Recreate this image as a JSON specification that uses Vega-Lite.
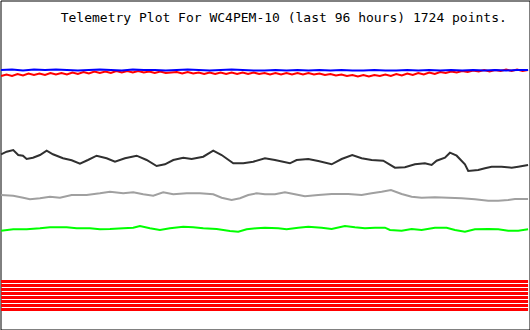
{
  "$schema": "https://vega.github.io/schema/vega-lite/v6.json",
  "width": 529,
  "height": 329,
  "padding": {"left": 0.5, "top": 0.5, "right": 0.5, "bottom": 0.5},
  "autosize": {"type": "none"},
  "background": "white",
  "config": {"view": {"stroke": "black", "strokeWidth": 1}},
  "datasets": {
    "analog": [
      {"series":"black","t":0,"v":175.7},{"series":"black","t":1.02,"v":178.3},{"series":"black","t":2.22,"v":180},{"series":"black","t":3.13,"v":175},{"series":"black","t":3.99,"v":174.3},{"series":"black","t":4.66,"v":171},{"series":"black","t":5.81,"v":172.3},{"series":"black","t":7.09,"v":175},{"series":"black","t":8.31,"v":179.3},{"series":"black","t":9.45,"v":175.7},{"series":"black","t":11.28,"v":171.7},{"series":"black","t":12.86,"v":169.7},{"series":"black","t":14.37,"v":166.3},{"series":"black","t":15.83,"v":170},{"series":"black","t":17.41,"v":174.3},{"series":"black","t":19.23,"v":171.7},{"series":"black","t":20.75,"v":168.3},{"series":"black","t":22.57,"v":171.7},{"series":"black","t":24.7,"v":174.3},{"series":"black","t":26.52,"v":170},{"series":"black","t":28.34,"v":164},{"series":"black","t":29.85,"v":165.7},{"series":"black","t":31.37,"v":170},{"series":"black","t":33.19,"v":172.3},{"series":"black","t":34.72,"v":171},{"series":"black","t":36.83,"v":173.3},{"series":"black","t":38.65,"v":179.3},{"series":"black","t":40.18,"v":175},{"series":"black","t":42.3,"v":166.7},{"series":"black","t":44.12,"v":166.7},{"series":"black","t":45.94,"v":168.3},{"series":"black","t":48.07,"v":171.7},{"series":"black","t":49.89,"v":170},{"series":"black","t":52.62,"v":166.7},{"series":"black","t":53.84,"v":170},{"series":"black","t":55.96,"v":171},{"series":"black","t":57.78,"v":169},{"series":"black","t":60.22,"v":165.7},{"series":"black","t":62.04,"v":171},{"series":"black","t":63.97,"v":175},{"series":"black","t":65.68,"v":171.7},{"series":"black","t":67.5,"v":170},{"series":"black","t":69.62,"v":169.3},{"series":"black","t":71.75,"v":162.3},{"series":"black","t":73.57,"v":162.7},{"series":"black","t":75.39,"v":165.7},{"series":"black","t":77.21,"v":166.7},{"series":"black","t":78.43,"v":165},{"series":"black","t":79.34,"v":169.3},{"series":"black","t":80.86,"v":172.3},{"series":"black","t":81.77,"v":177.3},{"series":"black","t":82.99,"v":174.3},{"series":"black","t":84.5,"v":165.7},{"series":"black","t":85.1,"v":159},{"series":"black","t":86.92,"v":160},{"series":"black","t":88.14,"v":161.7},{"series":"black","t":89.36,"v":163.3},{"series":"black","t":91.18,"v":163.3},{"series":"black","t":93.01,"v":162.3},{"series":"black","t":94.21,"v":163.3},{"series":"black","t":96,"v":165},
      {"series":"gray","t":0,"v":135},{"series":"gray","t":2.22,"v":134.3},{"series":"gray","t":4.04,"v":132.3},{"series":"gray","t":5.26,"v":130.7},{"series":"gray","t":7.09,"v":131.7},{"series":"gray","t":8.91,"v":133.3},{"series":"gray","t":10.73,"v":132.3},{"series":"gray","t":12.86,"v":135},{"series":"gray","t":15.59,"v":135},{"series":"gray","t":18.01,"v":136.7},{"series":"gray","t":19.84,"v":138.3},{"series":"gray","t":22.26,"v":136.7},{"series":"gray","t":24.08,"v":137.7},{"series":"gray","t":25.9,"v":135.7},{"series":"gray","t":27.72,"v":134.3},{"series":"gray","t":29.54,"v":137.7},{"series":"gray","t":31.37,"v":135.7},{"series":"gray","t":33.81,"v":136.7},{"series":"gray","t":36.23,"v":136.7},{"series":"gray","t":38.65,"v":135.7},{"series":"gray","t":40.18,"v":132.3},{"series":"gray","t":42,"v":130},{"series":"gray","t":43.52,"v":131.7},{"series":"gray","t":45.03,"v":135},{"series":"gray","t":46.56,"v":136.7},{"series":"gray","t":48.07,"v":135.7},{"series":"gray","t":49.89,"v":135.7},{"series":"gray","t":51.71,"v":137.7},{"series":"gray","t":53.53,"v":135.7},{"series":"gray","t":55.35,"v":133.7},{"series":"gray","t":57.78,"v":135},{"series":"gray","t":60.22,"v":136},{"series":"gray","t":63.24,"v":136},{"series":"gray","t":65.68,"v":135},{"series":"gray","t":67.5,"v":136.7},{"series":"gray","t":69.33,"v":138.3},{"series":"gray","t":71.02,"v":140},{"series":"gray","t":72.97,"v":136},{"series":"gray","t":74.79,"v":133.3},{"series":"gray","t":76.61,"v":132.3},{"series":"gray","t":79.03,"v":132.7},{"series":"gray","t":81.46,"v":132.3},{"series":"gray","t":83.9,"v":131.7},{"series":"gray","t":86.32,"v":130.7},{"series":"gray","t":88.74,"v":129.3},{"series":"gray","t":90.56,"v":129.3},{"series":"gray","t":92.39,"v":130},{"series":"gray","t":93.61,"v":131},{"series":"gray","t":96,"v":131},
      {"series":"green","t":0,"v":99.3},{"series":"green","t":2.22,"v":100.7},{"series":"green","t":4.66,"v":100.7},{"series":"green","t":7.09,"v":101.7},{"series":"green","t":8.91,"v":102.7},{"series":"green","t":11.95,"v":102.7},{"series":"green","t":13.77,"v":101.7},{"series":"green","t":16.19,"v":101.7},{"series":"green","t":18.01,"v":100.7},{"series":"green","t":19.84,"v":101},{"series":"green","t":22.26,"v":101.7},{"series":"green","t":24.08,"v":102.3},{"series":"green","t":25.3,"v":104},{"series":"green","t":27.12,"v":101.7},{"series":"green","t":28.94,"v":100},{"series":"green","t":30.76,"v":101.7},{"series":"green","t":33.19,"v":103.3},{"series":"green","t":35.01,"v":102.7},{"series":"green","t":36.83,"v":101.7},{"series":"green","t":39.27,"v":101},{"series":"green","t":41.69,"v":99},{"series":"green","t":43.21,"v":98.3},{"series":"green","t":44.74,"v":100.7},{"series":"green","t":46.56,"v":101.7},{"series":"green","t":48.07,"v":102.3},{"series":"green","t":50.49,"v":101.7},{"series":"green","t":52.02,"v":100.7},{"series":"green","t":54.14,"v":102.3},{"series":"green","t":55.96,"v":103.3},{"series":"green","t":58.4,"v":102.3},{"series":"green","t":60.22,"v":101},{"series":"green","t":62.64,"v":104},{"series":"green","t":64.46,"v":102.7},{"series":"green","t":66.28,"v":101.7},{"series":"green","t":68.11,"v":102.3},{"series":"green","t":69.93,"v":102.3},{"series":"green","t":70.84,"v":100},{"series":"green","t":72.97,"v":99.3},{"series":"green","t":74.79,"v":101},{"series":"green","t":76.61,"v":100},{"series":"green","t":79.03,"v":102.3},{"series":"green","t":81.16,"v":102.3},{"series":"green","t":82.68,"v":100},{"series":"green","t":84.5,"v":98.3},{"series":"green","t":86.32,"v":100.7},{"series":"green","t":88.74,"v":101},{"series":"green","t":90.56,"v":100.7},{"series":"green","t":92.39,"v":99.3},{"series":"green","t":94.21,"v":99.3},{"series":"green","t":96,"v":100.7},
      {"series":"red","t":0,"v":254},{"series":"red","t":1,"v":255.5},{"series":"red","t":2,"v":254},{"series":"red","t":3,"v":256},{"series":"red","t":4,"v":254.5},{"series":"red","t":5,"v":256.5},{"series":"red","t":6,"v":255},{"series":"red","t":7,"v":256.5},{"series":"red","t":8,"v":255},{"series":"red","t":9,"v":257},{"series":"red","t":10,"v":255.5},{"series":"red","t":11,"v":257},{"series":"red","t":12,"v":255.5},{"series":"red","t":13,"v":257.5},{"series":"red","t":14,"v":256},{"series":"red","t":15,"v":258},{"series":"red","t":16,"v":256.5},{"series":"red","t":17,"v":258.5},{"series":"red","t":18,"v":257},{"series":"red","t":19,"v":258.5},{"series":"red","t":20,"v":257},{"series":"red","t":21,"v":259},{"series":"red","t":22,"v":257.5},{"series":"red","t":23,"v":259},{"series":"red","t":24,"v":257.5},{"series":"red","t":25,"v":259},{"series":"red","t":26,"v":257.5},{"series":"red","t":27,"v":258.5},{"series":"red","t":28,"v":257},{"series":"red","t":29,"v":258.5},{"series":"red","t":30,"v":257},{"series":"red","t":32,"v":258},{"series":"red","t":33,"v":256.5},{"series":"red","t":34,"v":258},{"series":"red","t":35,"v":256.5},{"series":"red","t":36,"v":257.5},{"series":"red","t":37,"v":256},{"series":"red","t":38,"v":257.5},{"series":"red","t":39,"v":256},{"series":"red","t":40,"v":257.5},{"series":"red","t":41,"v":256},{"series":"red","t":42,"v":257.5},{"series":"red","t":43,"v":256},{"series":"red","t":44,"v":257.5},{"series":"red","t":45,"v":256},{"series":"red","t":46,"v":257.5},{"series":"red","t":47,"v":256},{"series":"red","t":48,"v":257},{"series":"red","t":49,"v":255.5},{"series":"red","t":50,"v":257},{"series":"red","t":51,"v":255.5},{"series":"red","t":52,"v":257},{"series":"red","t":53,"v":255.5},{"series":"red","t":54,"v":257},{"series":"red","t":55,"v":255.5},{"series":"red","t":56,"v":257},{"series":"red","t":57,"v":255.5},{"series":"red","t":58,"v":256.5},{"series":"red","t":59,"v":255},{"series":"red","t":60,"v":256},{"series":"red","t":61,"v":254.5},{"series":"red","t":62,"v":255.5},{"series":"red","t":63,"v":254},{"series":"red","t":64,"v":255},{"series":"red","t":65,"v":253.5},{"series":"red","t":66,"v":255},{"series":"red","t":67,"v":253.5},{"series":"red","t":68,"v":255},{"series":"red","t":69,"v":254},{"series":"red","t":70,"v":255.5},{"series":"red","t":71,"v":254},{"series":"red","t":72,"v":256},{"series":"red","t":73,"v":254.5},{"series":"red","t":74,"v":256.5},{"series":"red","t":75,"v":255},{"series":"red","t":76,"v":257},{"series":"red","t":77,"v":255.5},{"series":"red","t":78,"v":257.5},{"series":"red","t":79,"v":256},{"series":"red","t":80,"v":258},{"series":"red","t":81,"v":257},{"series":"red","t":82,"v":258.5},{"series":"red","t":83,"v":257.5},{"series":"red","t":84,"v":259},{"series":"red","t":85,"v":258},{"series":"red","t":86,"v":259.5},{"series":"red","t":87,"v":258.5},{"series":"red","t":88,"v":260},{"series":"red","t":89,"v":258.5},{"series":"red","t":90,"v":260},{"series":"red","t":91,"v":259},{"series":"red","t":92,"v":260.5},{"series":"red","t":93,"v":259},{"series":"red","t":94,"v":260.5},{"series":"red","t":95,"v":259},{"series":"red","t":96,"v":260},
      {"series":"blue","t":0,"v":260},{"series":"blue","t":2,"v":260.5},{"series":"blue","t":4,"v":259.5},{"series":"blue","t":6,"v":260.5},{"series":"blue","t":8,"v":260},{"series":"blue","t":10,"v":260.5},{"series":"blue","t":12,"v":260},{"series":"blue","t":14,"v":259.5},{"series":"blue","t":16,"v":260},{"series":"blue","t":18,"v":260.5},{"series":"blue","t":20,"v":260},{"series":"blue","t":22,"v":259.5},{"series":"blue","t":24,"v":260.5},{"series":"blue","t":26,"v":260},{"series":"blue","t":28,"v":260},{"series":"blue","t":30,"v":259.5},{"series":"blue","t":32,"v":260},{"series":"blue","t":34,"v":260.5},{"series":"blue","t":36,"v":260},{"series":"blue","t":38,"v":259.5},{"series":"blue","t":40,"v":260},{"series":"blue","t":42,"v":260.5},{"series":"blue","t":44,"v":260},{"series":"blue","t":46,"v":259.5},{"series":"blue","t":48,"v":259.5},{"series":"blue","t":50,"v":260},{"series":"blue","t":52,"v":259.5},{"series":"blue","t":54,"v":260},{"series":"blue","t":56,"v":259.5},{"series":"blue","t":58,"v":260},{"series":"blue","t":60,"v":259.5},{"series":"blue","t":62,"v":260},{"series":"blue","t":64,"v":259.5},{"series":"blue","t":66,"v":259.5},{"series":"blue","t":68,"v":260},{"series":"blue","t":70,"v":259.5},{"series":"blue","t":72,"v":259.5},{"series":"blue","t":74,"v":260},{"series":"blue","t":76,"v":259.5},{"series":"blue","t":78,"v":260},{"series":"blue","t":80,"v":259.5},{"series":"blue","t":82,"v":260},{"series":"blue","t":84,"v":259.5},{"series":"blue","t":86,"v":260},{"series":"blue","t":88,"v":259.5},{"series":"blue","t":90,"v":260},{"series":"blue","t":92,"v":259.5},{"series":"blue","t":94,"v":260},{"series":"blue","t":96,"v":260}
    ],
    "bits": [
      {"bit":"B1","t":0,"v":48.5},{"bit":"B1","t":96,"v":48.5},
      {"bit":"B2","t":0,"v":44.5},{"bit":"B2","t":96,"v":44.5},
      {"bit":"B3","t":0,"v":40.5},{"bit":"B3","t":96,"v":40.5},
      {"bit":"B4","t":0,"v":36.5},{"bit":"B4","t":96,"v":36.5},
      {"bit":"B5","t":0,"v":32.5},{"bit":"B5","t":96,"v":32.5},
      {"bit":"B6","t":0,"v":28.5},{"bit":"B6","t":96,"v":28.5},
      {"bit":"B7","t":0,"v":24.5},{"bit":"B7","t":96,"v":24.5},
      {"bit":"B8","t":0,"v":20.5},{"bit":"B8","t":96,"v":20.5}
    ]
  },
  "layer": [
    {
      "data": {"name": "bits"},
      "mark": {"type": "line", "strokeWidth": 3, "color": "#ff0000"},
      "encoding": {
        "x": {"field": "t", "type": "quantitative", "scale": {"domain": [-0.1, 96.26], "nice": false, "zero": false}, "axis": null},
        "y": {"field": "v", "type": "quantitative", "scale": {"domain": [0.5, 329.5], "nice": false, "zero": false}, "axis": null},
        "detail": {"field": "bit", "type": "nominal"}
      }
    },
    {
      "data": {"name": "analog"},
      "mark": {"type": "line", "strokeWidth": 2},
      "encoding": {
        "x": {"field": "t", "type": "quantitative", "axis": null},
        "y": {"field": "v", "type": "quantitative", "axis": null},
        "color": {"field": "series", "type": "nominal", "legend": null, "scale": {"domain": ["black", "gray", "green", "red", "blue"], "range": ["#303030", "#a0a0a0", "#00ff00", "#ff0000", "#0000ff"]}}
      }
    },
    {
      "data": {"values": [{"label": "Telemetry Plot For WC4PEM-10 (last 96 hours) 1724 points."}]},
      "mark": {"type": "text", "font": "DejaVu Sans Mono", "fontSize": 13, "color": "black", "align": "center", "baseline": "alphabetic"},
      "encoding": {
        "x": {"datum": 51.5},
        "y": {"datum": 308},
        "text": {"field": "label"}
      }
    }
  ]
}
